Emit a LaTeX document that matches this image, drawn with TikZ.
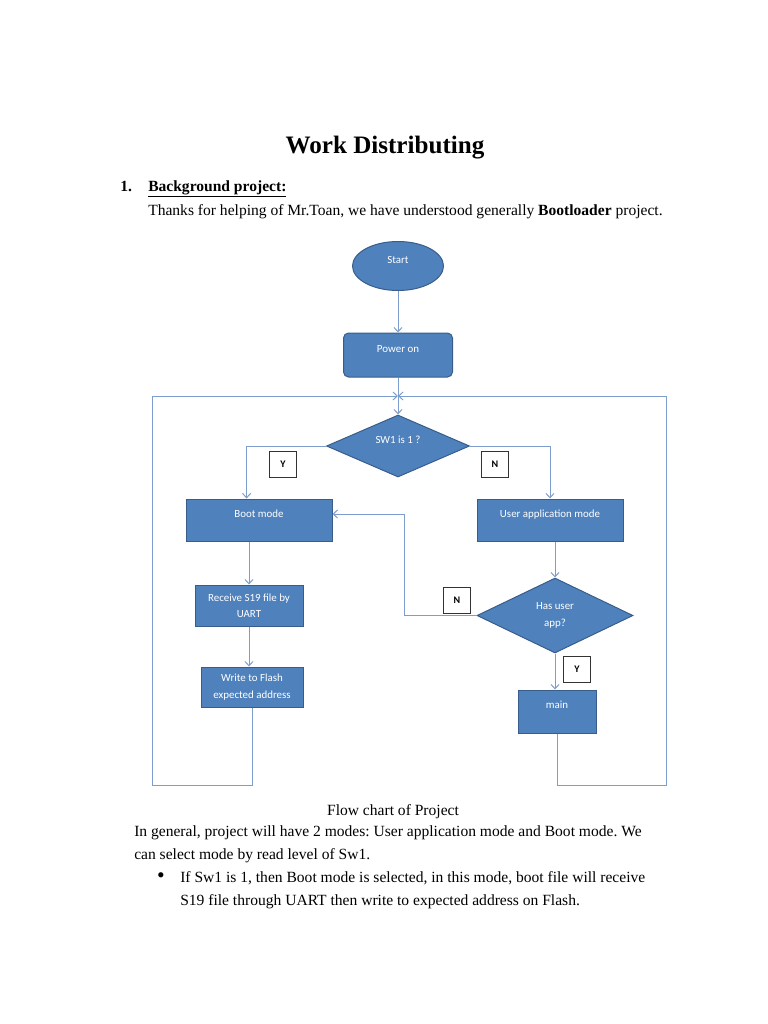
\documentclass[tikz,border=0pt]{standalone}
\usepackage{fontspec}
\setmainfont{Liberation Serif}
\newfontfamily\chartfont{Carlito}
\usetikzlibrary{shapes.geometric,arrows.meta}
\definecolor{boxblue}{RGB}{79,129,189}
\definecolor{boxedge}{RGB}{56,93,138}
\definecolor{flowline}{RGB}{125,158,204}
\newcommand{\pxu}{0.796875pt}
\frenchspacing

\begin{document}
\begin{tikzpicture}[x=0.796875pt, y=-0.796875pt,
  every node/.style={inner sep=0pt},
  shapebox/.style={draw=boxedge, line width=0.8pt, fill=boxblue, text=white, font=\chartfont\fontsize{8.7}{13}\selectfont, align=center},
  raised/.style={text height=7pt, text depth=11.5pt},
  tagbox/.style={draw=black!80, line width=0.6pt, fill=white, font=\chartfont\bfseries\fontsize{8}{10}\selectfont, minimum width=27*\pxu, minimum height=26*\pxu},
  flow/.style={draw=flowline, line width=0.8pt, ->, >={Straight Barb[length=3.5pt,width=6.5pt]}},
  bodytext/.style={anchor=base west, font=\fontsize{12.4}{14}\selectfont}]
\useasboundingbox (0,0) rectangle (768,1024);
% text above the chart
\node[anchor=base, font=\bfseries\fontsize{20}{24}\selectfont] (TTitle) at (385,153) {Work Distributing};
\node[bodytext, font=\bfseries\fontsize{12.4}{14}\selectfont] (TNum) at (120,191) {1.};
\node[bodytext, font=\bfseries\fontsize{12.4}{14}\selectfont] (THead) at (148,191) {\underline{Background project:}};
\node[bodytext] (TLine0) at (148,215) {Thanks for helping of Mr.Toan, we have understood generally \textbf{Bootloader} project.};
% flow chart
\node[shapebox, ellipse, raised, minimum width=91*\pxu, minimum height=49*\pxu] (FCStart) at (398,266) {Start};
\node[shapebox, rectangle, rounded corners=4pt, raised, minimum width=109*\pxu, minimum height=44*\pxu] (FCPower) at (398,355) {Power on};
\node[shapebox, diamond, aspect=2.1, raised, minimum width=143*\pxu, minimum height=62*\pxu] (FCSw) at (398,446) {SW1 is 1 ?};
\node[tagbox] (FCY1) at (283,464) {Y};
\node[tagbox] (FCN1) at (495,464) {N};
\node[shapebox, rectangle, raised, minimum width=146*\pxu, minimum height=42*\pxu] (FCBoot) at (259,520) {Boot mode};
\node[shapebox, rectangle, raised, minimum width=146*\pxu, minimum height=42*\pxu] (FCUser) at (550,520) {User application mode};
\node[shapebox, rectangle, minimum width=108*\pxu, minimum height=41*\pxu] (FCRecv) at (249,605.5) {Receive S19 file by\\UART};
\node[shapebox, rectangle, minimum width=102*\pxu, minimum height=40*\pxu] (FCWrite) at (252,687) {Write to Flash\\expected address};
\node[shapebox, diamond, aspect=2.1, minimum width=156*\pxu, minimum height=75*\pxu] (FCHas) at (555,615.5) {Has user\\app?};
\node[tagbox] (FCN2) at (457,600) {N};
\node[tagbox] (FCY2) at (577,669) {Y};
\node[shapebox, rectangle, raised, minimum width=78*\pxu, minimum height=43*\pxu] (FCMain) at (557,711.5) {main};
\coordinate (FCJoin) at (398,396);
\coordinate (FCLoopL) at (152,785);
\coordinate (FCLoopR) at (666,785);
\coordinate (FCBend) at (404,514);
\draw[flow] (FCStart) -- (FCPower);
\draw[flow] (FCPower) -- (FCSw);
\draw[flow] (FCSw.west) -| (FCBoot.120);
\draw[flow] (FCSw.east) -| (FCUser.north);
\draw[flow] (FCBoot.south -| FCRecv.north) -- (FCRecv.north);
\draw[flow] (FCRecv.south) -- (FCRecv.south |- FCWrite.north);
\draw[flow] (FCUser.south -| FCHas.north) -- (FCHas.north);
\draw[flow] (FCHas.south) -- (FCHas.south |- FCMain.north);
\draw[flow] (FCHas.west) -| (FCBend) -- (FCBoot.east |- FCBend);
\draw[flow] (FCWrite.south) |- (FCLoopL) |- (FCJoin);
\draw[flow] (FCMain.south) |- (FCLoopR) |- (FCJoin);
% text below the chart
\node[anchor=base, font=\fontsize{12.4}{14}\selectfont] (TCaption) at (393,815) {Flow chart of Project};
\node[bodytext] (TLine1) at (134,836) {In general, project will have 2 modes: User application mode and Boot mode. We};
\node[bodytext] (TLine2) at (134,859) {can select mode by read level of Sw1.};
\node[anchor=center, font=\fontsize{12.4}{14}\selectfont] (TBullet) at (161,878) {\scalebox{1.4}{\textbullet}};
\node[bodytext] (TLine3) at (180,882) {If Sw1 is 1, then Boot mode is selected, in this mode, boot file will receive};
\node[bodytext] (TLine4) at (180,905) {S19 file through UART then write to expected address on Flash.};
\end{tikzpicture}
\end{document}
